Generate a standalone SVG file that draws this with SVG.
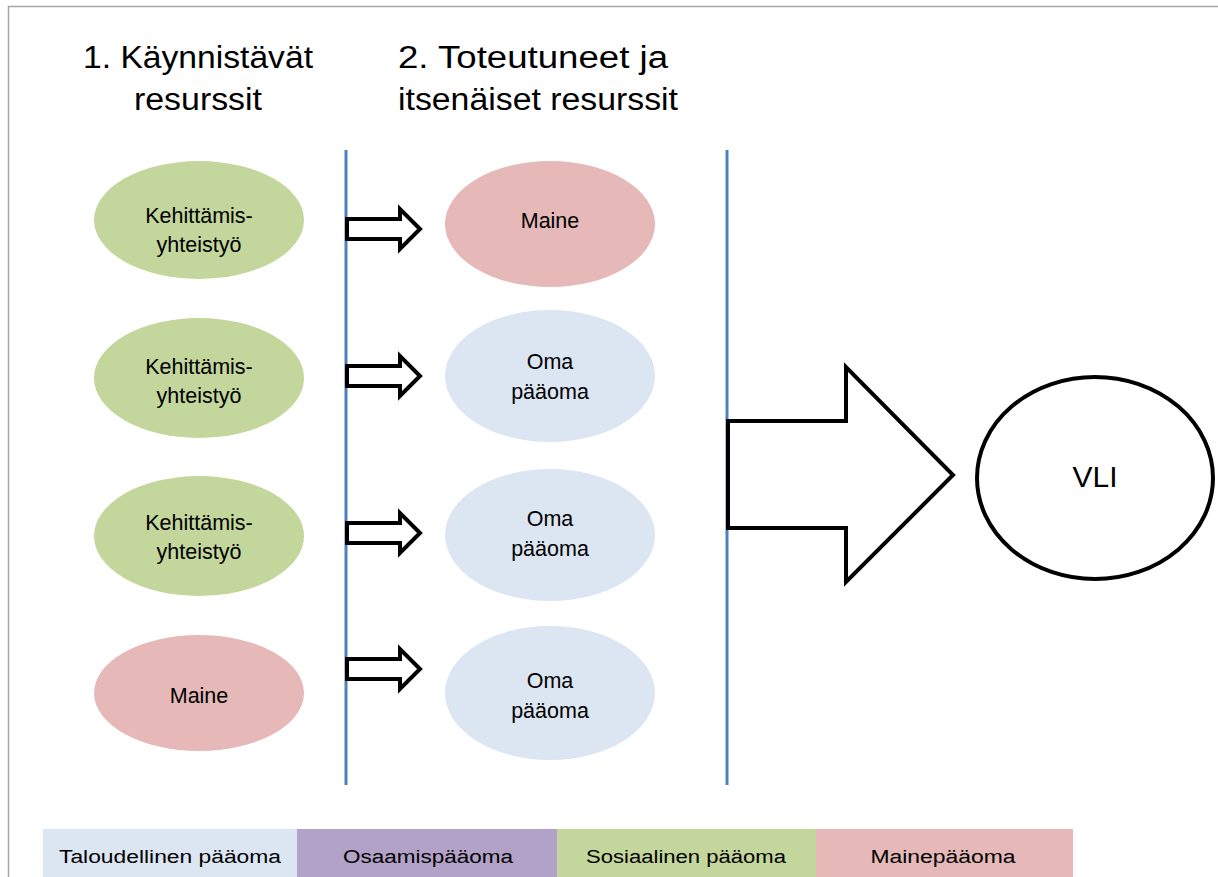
<svg xmlns="http://www.w3.org/2000/svg" width="1218" height="877" viewBox="0 0 1218 877">
  <style>
    text { font-family: "Liberation Sans", Arial, sans-serif; fill: #000; text-anchor: middle; }
    .title { font-size: 31px; }
    .node { font-size: 21.5px; }
    .legend { font-size: 18px; }
    .green { fill: #C3D69B; }
    .pink { fill: #E6B9B8; }
    .blue { fill: #DCE6F2; }
    .divider { stroke: #4F81BD; stroke-width: 3; }
    .arrow { fill: #fff; stroke: #000; stroke-width: 4; stroke-linejoin: miter; }
  </style>

  <!-- frame -->
  <rect x="0" y="0" width="1218" height="877" fill="#fff"/>
  <path d="M8.5,877 V6.5 H1218" fill="none" stroke="#A6A6A6" stroke-width="1.5"/>

  <!-- column headings -->
  <g id="heading-1">
    <text class="title" x="198" y="68" textLength="230" lengthAdjust="spacingAndGlyphs">1. Käynnistävät</text>
    <text class="title" x="198" y="110" textLength="128" lengthAdjust="spacingAndGlyphs">resurssit</text>
  </g>
  <g id="heading-2">
    <text class="title" x="533" y="68" textLength="270" lengthAdjust="spacingAndGlyphs">2. Toteutuneet ja</text>
    <text class="title" x="538" y="110" textLength="280" lengthAdjust="spacingAndGlyphs">itsenäiset resurssit</text>
  </g>

  <!-- left column: initiating resources -->
  <g id="start-1">
    <ellipse class="green" cx="199" cy="220" rx="105" ry="59"/>
    <text class="node" x="199" y="223">Kehittämis-</text>
    <text class="node" x="199" y="252">yhteistyö</text>
  </g>
  <g id="start-2">
    <ellipse class="green" cx="199" cy="378" rx="105" ry="60"/>
    <text class="node" x="199" y="374">Kehittämis-</text>
    <text class="node" x="199" y="403">yhteistyö</text>
  </g>
  <g id="start-3">
    <ellipse class="green" cx="199" cy="536" rx="105" ry="60"/>
    <text class="node" x="199" y="530">Kehittämis-</text>
    <text class="node" x="199" y="559">yhteistyö</text>
  </g>
  <g id="start-4">
    <ellipse class="pink" cx="199" cy="693" rx="105" ry="58"/>
    <text class="node" x="199" y="703">Maine</text>
  </g>

  <!-- middle column: realised resources -->
  <g id="result-1">
    <ellipse class="pink" cx="550" cy="224" rx="105" ry="63"/>
    <text class="node" x="550" y="228">Maine</text>
  </g>
  <g id="result-2">
    <ellipse class="blue" cx="550" cy="376" rx="105" ry="66"/>
    <text class="node" x="550" y="369">Oma</text>
    <text class="node" x="550" y="399">pääoma</text>
  </g>
  <g id="result-3">
    <ellipse class="blue" cx="550" cy="535" rx="105" ry="66"/>
    <text class="node" x="550" y="526">Oma</text>
    <text class="node" x="550" y="556">pääoma</text>
  </g>
  <g id="result-4">
    <ellipse class="blue" cx="550" cy="693" rx="105" ry="67"/>
    <text class="node" x="550" y="688">Oma</text>
    <text class="node" x="550" y="718">pääoma</text>
  </g>

  <!-- VLI -->
  <g id="vli">
    <ellipse cx="1095" cy="478" rx="118" ry="101" fill="#fff" stroke="#000" stroke-width="4"/>
    <text x="1095" y="487" font-size="30">VLI</text>
  </g>

  <!-- connectors -->
  <g id="connectors">
    <line class="divider" x1="346" y1="150" x2="346" y2="785"/>
    <line class="divider" x1="727" y1="150" x2="727" y2="785"/>
    <path class="arrow" d="M347,219 H400 V209 L420,229 L400,249 V239 H347 Z"/>
    <path class="arrow" d="M347,366 H400 V356 L420,376 L400,396 V386 H347 Z"/>
    <path class="arrow" d="M347,523 H400 V513 L420,533 L400,553 V543 H347 Z"/>
    <path class="arrow" d="M347,659 H400 V649 L420,669 L400,689 V679 H347 Z"/>
    <path class="arrow" d="M728,421 H846 V367 L953,475 L846,582 V528 H728 Z"/>
  </g>

  <!-- legend -->
  <g id="legend">
    <rect x="43" y="829" width="254" height="48" fill="#DCE6F2"/>
    <rect x="297" y="829" width="260" height="48" fill="#B3A2C7"/>
    <rect x="557" y="829" width="259" height="48" fill="#C3D69B"/>
    <rect x="816" y="829" width="257" height="48" fill="#E6B9B8"/>
    <text class="legend" x="170" y="863" textLength="222" lengthAdjust="spacingAndGlyphs">Taloudellinen pääoma</text>
    <text class="legend" x="428" y="863" textLength="170" lengthAdjust="spacingAndGlyphs">Osaamispääoma</text>
    <text class="legend" x="686" y="863" textLength="200" lengthAdjust="spacingAndGlyphs">Sosiaalinen pääoma</text>
    <text class="legend" x="943" y="863" textLength="145" lengthAdjust="spacingAndGlyphs">Mainepääoma</text>
  </g>
</svg>
